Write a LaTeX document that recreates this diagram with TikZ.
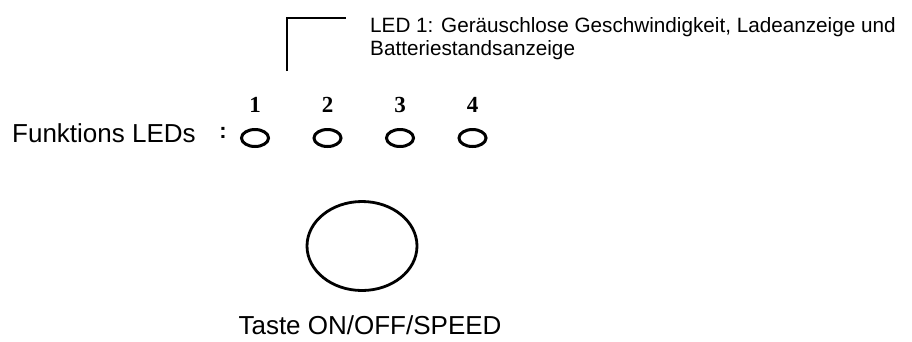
\documentclass[tikz,border=0pt]{standalone}
\usepackage{fontspec}
\setmainfont{Liberation Sans}
\newfontfamily\digitfont{Liberation Serif}
\usetikzlibrary{shapes.geometric}

\begin{document}
\begin{tikzpicture}
  [
    x = 1pt, y = -1pt,
    every node/.style = {inner sep=0pt},
    led/.style        = {draw, ellipse, line width=3pt, minimum width=27pt, minimum height=17pt},
    ledno/.style      = {font=\digitfont\bfseries\fontsize{23}{23}\selectfont},
    button/.style     = {draw, ellipse, line width=2.8pt, minimum width=110pt, minimum height=89pt},
    label/.style      = {font=\fontsize{26}{30}\selectfont}
  ]
 \useasboundingbox (0,0) rectangle (912,341);
 % LED row
 \foreach \i in {1,...,4}
  {
   \node [led]   (led\i) at ({255+72.5*(\i-1)},138) {};
   \node [ledno] (no\i)  at ({255+72.5*(\i-1)},105) {\i};
  }
 \node [label, anchor=base west] (ledlabel) at (12,142) {Funktions LEDs};
 \node [font=\bfseries\fontsize{22}{22}\selectfont] (colon) at (223,133) {:};
 % callout for LED 1
 \node [anchor=north west, align=left, font=\fontsize{20.7}{23}\selectfont] (ledinfo) at (370,17.5)
  {LED 1: Geräuschlose Geschwindigkeit, Ladeanzeige und\\Batteriestandsanzeige};
 \coordinate (tip)  at (287,71);
 \coordinate (tail) at (346,18);
 \draw [line width=1.2pt] (tip) |- (tail);
 % button
 \node [button] (taste) at (362,246) {};
 \node [label, anchor=base] (tastelabel) at (370,334) {Taste ON/OFF/SPEED};
\end{tikzpicture}
\end{document}
